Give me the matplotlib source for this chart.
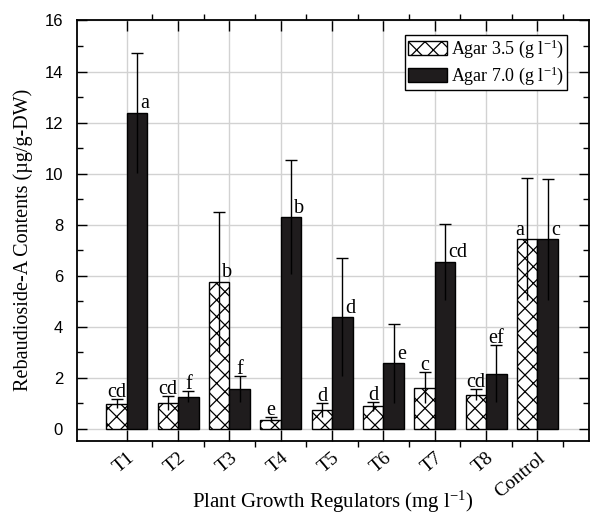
import numpy as np
import matplotlib
matplotlib.use("Agg")
import matplotlib.pyplot as plt
from matplotlib.patches import Patch
from matplotlib.ticker import MultipleLocator, FixedLocator
from matplotlib.transforms import ScaledTranslation

# ---- data ----
categories = ["T1", "T2", "T3", "T4", "T5", "T6", "T7", "T8", "Control"]
agar35 = [0.99, 1.02, 5.76, 0.37, 0.73, 0.89, 1.62, 1.35, 7.43]
agar35_err = [0.18, 0.27, 2.74, 0.10, 0.27, 0.18, 0.61, 0.21, 2.39]
agar35_letters = ["cd", "cd", "b", "e", "d", "d", "c", "cd", "a"]
agar70 = [12.39, 1.27, 1.56, 8.29, 4.37, 2.58, 6.55, 2.16, 7.43]
agar70_err = [2.35, 0.22, 0.52, 2.23, 2.31, 1.55, 1.49, 1.12, 2.37]
agar70_letters = ["a", "f", "f", "b", "d", "e", "cd", "ef", "c"]
series_names = [r"Agar 3.5 (g l$^{\mathregular{-1}}$)", r"Agar 7.0 (g l$^{\mathregular{-1}}$)"]

plt.rcParams["font.family"] = "Liberation Serif"
plt.rcParams["mathtext.fontset"] = "custom"
plt.rcParams["mathtext.rm"] = "Liberation Serif"
plt.rcParams["mathtext.it"] = "Liberation Serif:italic"
plt.rcParams["hatch.linewidth"] = 0.9

fig = plt.figure(figsize=(5.90, 5.16), dpi=100)
ax = fig.add_axes([0.1305, 0.1453, 0.8675, 0.8150])

x = np.arange(1, len(categories) + 1)
w = 0.4
dark = "#1f1c1d"

ax.bar(x - w / 2, agar35, width=w, color="white", edgecolor="black",
       linewidth=1.0, hatch="xx", zorder=2)
ax.bar(x + w / 2, agar70, width=w, color=dark, edgecolor="black",
       linewidth=1.0, zorder=2)

for xs, vals, errs in [(x - w / 2, agar35, agar35_err), (x + w / 2, agar70, agar70_err)]:
    vals = np.array(vals); errs = np.array(errs)
    ax.errorbar(xs, vals, yerr=errs, fmt="none", ecolor="black", elinewidth=1.0,
                capsize=0, zorder=3)
    ax.plot(xs, vals + errs, ls="none", marker="_", ms=9, mew=1.0, color="black", zorder=3)

# significance letters
left_side = {("a35", "Control")}
for key, xs, vals, errs, letters in [("a35", x - w / 2, agar35, agar35_err, agar35_letters),
                                      ("a70", x + w / 2, agar70, agar70_err, agar70_letters)]:
    for cat, xi, v, e, lab in zip(categories, xs, vals, errs, letters):
        if e > 1.3:
            if (key, cat) in left_side:
                ax.text(xi - 0.06, v + 0.18, lab, ha="right", va="baseline", fontsize=14.5, zorder=4)
            else:
                ax.text(xi + 0.06, v + 0.18, lab, ha="left", va="baseline", fontsize=14.5, zorder=4)
        else:
            ax.text(xi, v + e + 0.08, lab, ha="center", va="baseline", fontsize=14.5, zorder=4)

ax.set_xlim(0.03, 10.0)
ax.set_ylim(-0.47, 16)

ax.yaxis.set_major_locator(MultipleLocator(2))
ax.yaxis.set_minor_locator(MultipleLocator(1))
ax.xaxis.set_major_locator(FixedLocator(x))
ax.xaxis.set_minor_locator(FixedLocator(x + 0.5))
ax.set_xticklabels(categories, rotation=40, ha="right", va="top",
                   rotation_mode="anchor", fontsize=14)
shift = ScaledTranslation(9 / 100, 0, fig.dpi_scale_trans)
for lbl in ax.get_xticklabels():
    lbl.set_transform(lbl.get_transform() + shift)
for lbl in ax.get_yticklabels():
    lbl.set_fontfamily("Liberation Sans")
    lbl.set_fontsize(12)

ax.tick_params(axis="y", which="major", direction="in", length=7, width=1.0,
               right=True, left=True, pad=10)
ax.tick_params(axis="y", which="minor", direction="in", length=4, width=1.0,
               right=True, left=True)
ax.tick_params(axis="x", which="major", direction="in", length=8, width=1.0,
               top=True, bottom=True, pad=6)
ax.tick_params(axis="x", which="minor", direction="out", length=4, width=1.0,
               top=True, bottom=True)

ax.grid(True, which="major", color="#d2d2d2", linewidth=1.0, zorder=0)
ax.set_axisbelow(True)
for s in ax.spines.values():
    s.set_linewidth(1.3)
    s.set_color("black")

ax.set_ylabel("Rebaudioside-A Contents (\u00b5g/g-DW)", fontsize=14.5)
ax.yaxis.set_label_coords(-0.086, 0.478)
ax.set_xlabel(r"Plant Growth Regulators (mg l$^{\mathregular{-1}}$)", fontsize=15)
ax.xaxis.label.set_va("baseline")
ax.xaxis.set_label_coords(0.5, -0.158)

handles = [Patch(facecolor="white", edgecolor="black", hatch="xx", linewidth=1.0),
           Patch(facecolor=dark, edgecolor="black", linewidth=1.0)]
leg = ax.legend(handles, series_names, loc="upper right", bbox_to_anchor=(0.957, 0.9655),
                fontsize=13, frameon=True, fancybox=False, edgecolor="black",
                framealpha=1, handlelength=2.2, handleheight=0.8, borderpad=0.15,
                labelspacing=0.25, handletextpad=0.2, borderaxespad=0.0)
leg.get_frame().set_linewidth(1.0)

fig.savefig("out.png", dpi=100)
